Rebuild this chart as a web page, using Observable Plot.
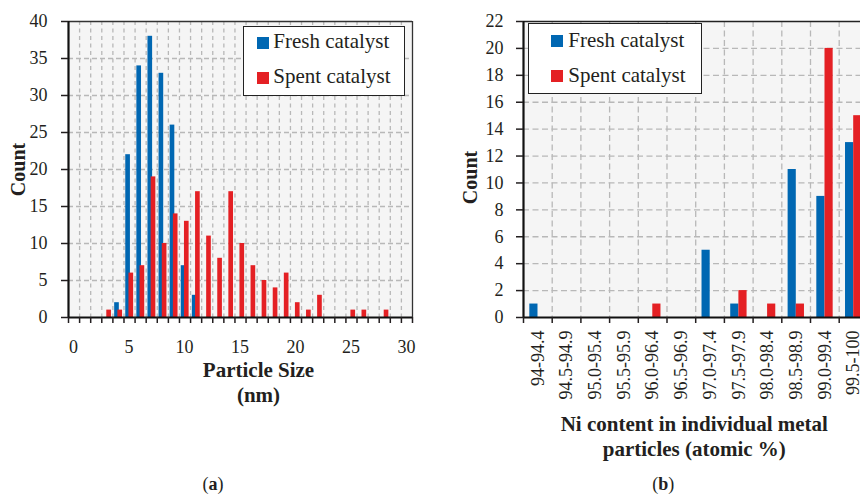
<!DOCTYPE html>
<html>
<head>
<meta charset="utf-8">
<script src="https://cdn.jsdelivr.net/npm/d3@7"></script>
<script src="https://cdn.jsdelivr.net/npm/@observablehq/plot@0.6"></script>
<style>
  html, body { margin: 0; padding: 0; background: #fff; overflow: hidden; }
  #page { position: relative; width: 860px; height: 494px; overflow: hidden;
          font-family: "Liberation Serif", serif; color: #231f20; }
  .panel { position: absolute; top: 0; }
  .legend-box { position: absolute; background: #fff; border: 1.5px solid #222; box-sizing: border-box; }
  .legend-row { position: absolute; white-space: nowrap; font-size: 21px; line-height: 21px; }
  .swatch { position: absolute; width: 12px; height: 12px; }
  .caption { position: absolute; font-size: 18px; line-height: 18px; transform: translateX(-50%); white-space: nowrap; }
</style>
</head>
<body>
<div id="page"></div>
<script>
// Series shared by both panels
const seriesNames = ["Fresh catalyst", "Spent catalyst"];
const seriesColors = ["#0067b2", "#e42024"];

// Panel (a): particle size distribution, counts per 1 nm bin
const sizeBinsFresh = [4, 5, 6, 7, 8, 9, 10, 11];
const sizeCountsFresh = [2, 22, 34, 38, 33, 26, 7, 3];
const sizeBinsSpent = [3, 4, 5, 6, 7, 8, 9, 10, 11, 12, 13, 14, 15, 16, 17, 18, 19, 20, 21, 22, 25, 26, 28];
const sizeCountsSpent = [1, 1, 6, 7, 19, 10, 14, 13, 17, 11, 8, 17, 10, 7, 5, 4, 6, 2, 1, 3, 1, 1, 1];
const sizeTickLabels = [0, 5, 10, 15, 20, 25, 30];
const sizeCountTicks = [0, 5, 10, 15, 20, 25, 30, 35, 40];

// Panel (b): Ni content of individual metal particles
const niRanges = ["94-94.4", "94.5-94.9", "95.0-95.4", "95.5-95.9", "96.0-96.4", "96.5-96.9",
                  "97.0-97.4", "97.5-97.9", "98.0-98.4", "98.5-98.9", "99.0-99.4", "99.5-100"];
const niFresh = [1, 0, 0, 0, 0, 0, 5, 1, 0, 11, 9, 13];
const niSpent = [0, 0, 0, 0, 1, 0, 0, 2, 1, 1, 20, 15];
const niCountTicks = [0, 2, 4, 6, 8, 10, 12, 14, 16, 18, 20, 22];

const page = document.getElementById("page");
const svgStyle = {fontFamily: "Liberation Serif", fontSize: "18px", color: "#231f20",
                  background: "none", overflow: "visible"};
const gridStyle = {stroke: "#b8b8b8", strokeWidth: 1.3};

// ---- Panel (a) ----
const freshSize = sizeBinsFresh.map((b, i) => ({bin: b, count: sizeCountsFresh[i]}));
const spentSize = sizeBinsSpent.map((b, i) => ({bin: b, count: sizeCountsSpent[i]}));
const nBins = 31;

const chartA = Plot.plot({
  width: 430, height: 494,
  marginLeft: 68, marginRight: 18, marginTop: 21, marginBottom: 177,
  style: svgStyle,
  x: {domain: [0, nBins]},
  y: {domain: [0, 40]},
  marks: [
    Plot.frame({fill: "#f5f5f5", stroke: "none"}),
    Plot.ruleX(d3.range(1, nBins), {...gridStyle, strokeDasharray: "4,3.5"}),
    Plot.ruleY(sizeCountTicks.slice(1, -1), {...gridStyle, strokeDasharray: "5,3"}),
    Plot.rectY(freshSize, {x1: d => d.bin + 0.16, x2: d => d.bin + 0.58, y: "count", fill: seriesColors[0]}),
    Plot.rectY(spentSize, {x1: d => d.bin + 0.45, x2: d => d.bin + 0.87, y: "count", fill: seriesColors[1]}),
    Plot.ruleY([40], {stroke: "#333", strokeWidth: 1.3}),
    Plot.ruleX([nBins], {stroke: "#333", strokeWidth: 1.3}),
    Plot.ruleX([0], {stroke: "#111", strokeWidth: 2.2}),
    Plot.ruleY([0], {stroke: "#111", strokeWidth: 2.2}),
    Plot.axisY(sizeCountTicks, {tickSize: 7, tickPadding: 14, strokeWidth: 1.5, label: null}),
    Plot.axisX(d3.range(0, nBins + 1), {tickSize: 6, strokeWidth: 1.5, tickFormat: () => "", label: null}),
    Plot.axisX(sizeTickLabels.map(v => v + 0.45), {tickSize: 0, tickPadding: 23, label: null,
      tickFormat: v => String(Math.round(v - 0.45))}),
    Plot.text(["Particle Size\n(nm)"], {frameAnchor: "bottom", dx: 18, dy: 42, lineAnchor: "top",
      lineHeight: 1.19, fontWeight: "bold", fontSize: 21}),
    Plot.text(["Count"], {frameAnchor: "left", dx: -50, rotate: -90, textAnchor: "middle",
      lineAnchor: "middle", fontWeight: "bold", fontSize: 20})
  ]
});
chartA.classList.add("panel");
chartA.style.left = "0px";
page.appendChild(chartA);

// ---- Panel (b) ----
const freshNi = niRanges.map((r, i) => ({i, count: niFresh[i]})).filter(d => d.count > 0);
const spentNi = niRanges.map((r, i) => ({i, count: niSpent[i]})).filter(d => d.count > 0);
const nRanges = niRanges.length;

const chartB = Plot.plot({
  width: 440, height: 494,
  marginLeft: 83, marginRight: 12.6, marginTop: 21, marginBottom: 177,
  style: svgStyle,
  x: {domain: [0, nRanges]},
  y: {domain: [0, 22]},
  marks: [
    Plot.frame({fill: "#f5f5f5", stroke: "none"}),
    Plot.ruleX(d3.range(1, nRanges), {...gridStyle, strokeDasharray: "6,3.5"}),
    Plot.ruleY(niCountTicks.slice(1, -1), {...gridStyle, strokeDasharray: "6,3.5"}),
    Plot.rectY(freshNi, {x1: d => d.i + 0.22, x2: d => d.i + 0.505, y: "count", fill: seriesColors[0]}),
    Plot.rectY(spentNi, {x1: d => d.i + 0.505, x2: d => d.i + 0.79, y: "count", fill: seriesColors[1]}),
    Plot.ruleY([22], {stroke: "#222", strokeWidth: 1.5}),
    Plot.ruleX([nRanges], {stroke: "#222", strokeWidth: 1.5}),
    Plot.ruleX([0], {stroke: "#111", strokeWidth: 2.2}),
    Plot.ruleY([0], {stroke: "#111", strokeWidth: 2.2}),
    Plot.axisY(niCountTicks, {tickSize: 7, tickPadding: 13, strokeWidth: 1.5, label: null}),
    Plot.axisX(d3.range(0, nRanges + 1), {tickSize: 6, strokeWidth: 1.5, tickFormat: () => "", label: null}),
    Plot.axisX(niRanges.map((_, i) => i + 0.5), {tickSize: 0, tickPadding: 13, tickRotate: -90, label: null,
      tickFormat: v => niRanges[Math.floor(v)]}),
    Plot.text(["Ni content in individual metal\nparticles (atomic %)"], {frameAnchor: "bottom", dx: -1.4, dy: 96,
      lineAnchor: "top", lineHeight: 1.19, fontWeight: "bold", fontSize: 21}),
    Plot.text(["Count"], {frameAnchor: "left", dx: -53, dy: 8, rotate: -90, textAnchor: "middle",
      lineAnchor: "middle", fontWeight: "bold", fontSize: 20})
  ]
});
chartB.classList.add("panel");
chartB.style.left = "440px";
page.appendChild(chartB);

// ---- Legends (inside each plot area) ----
function addLegend(box, swatchX, textX, rowTops, swatchTops) {
  const b = document.createElement("div");
  b.className = "legend-box";
  Object.assign(b.style, {left: box[0] + "px", top: box[1] + "px", width: box[2] + "px", height: box[3] + "px"});
  page.appendChild(b);
  seriesNames.forEach((name, k) => {
    const sw = document.createElement("div");
    sw.className = "swatch";
    Object.assign(sw.style, {left: swatchX + "px", top: swatchTops[k] + "px", background: seriesColors[k]});
    page.appendChild(sw);
    const row = document.createElement("div");
    row.className = "legend-row";
    Object.assign(row.style, {left: textX + "px", top: rowTops[k] + "px"});
    row.textContent = name;
    page.appendChild(row);
  });
}
addLegend([243, 26, 162, 70], 257.3, 273.3, [31.4, 66.4], [37, 72]);
addLegend([528.3, 23.3, 174, 71], 551, 568.3, [30.1, 64.7], [35.3, 70]);

// ---- Panel captions ----
[["a", 213], ["b", 663.3]].forEach(([letter, cx]) => {
  const c = document.createElement("div");
  c.className = "caption";
  c.style.left = cx + "px";
  c.style.top = "475px";
  c.append("(");
  const bold = document.createElement("b");
  bold.textContent = letter;
  c.append(bold, ")");
  page.appendChild(c);
});
</script>
</body>
</html>
